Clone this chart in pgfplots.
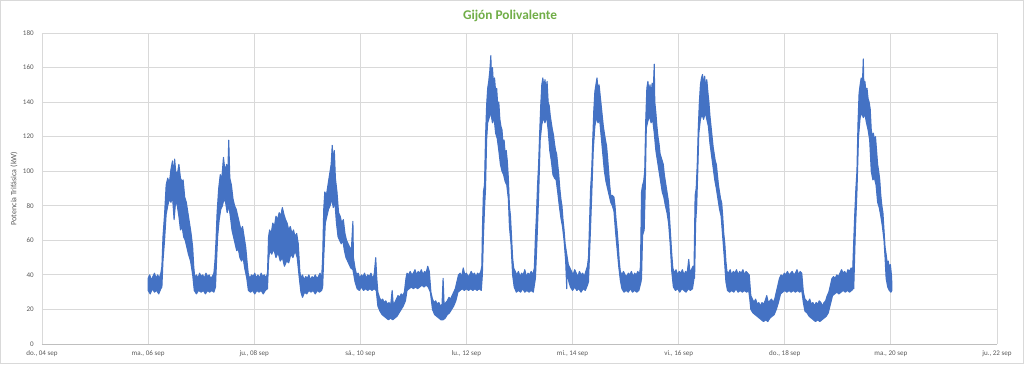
\documentclass[border=0pt]{standalone}
\usepackage{fontspec}
\setmainfont{Carlito}
\usepackage{pgfplots}
\pgfplotsset{compat=1.18}
\definecolor{excelblue}{HTML}{4472C4}
\definecolor{titlegreen}{HTML}{70AD47}
\definecolor{gridgray}{HTML}{D9D9D9}
\definecolor{axisgray}{HTML}{BFBFBF}
\definecolor{labelgray}{HTML}{595959}
\begin{document}
\begin{tikzpicture}
\useasboundingbox (0,0) rectangle (768pt,273pt);
\draw[gridgray, line width=0.75pt] (0.4pt,0.4pt) rectangle (767.6pt,272.6pt);
\begin{axis}[
  at={(31.5pt,15pt)}, anchor=south west,
  scale only axis, width=716.25pt, height=233.25pt,
  xmin=0, xmax=18, ymin=0, ymax=180,
  xtick={0,2,...,18},
  xticklabels={{do., 04 sep},{ma., 06 sep},{ju., 08 sep},{sá., 10 sep},{lu., 12 sep},{mi., 14 sep},{vi., 16 sep},{do., 18 sep},{ma., 20 sep},{ju., 22 sep}},
  ytick={0,20,...,180},
  grid=major, major grid style={gridgray, line width=0.6pt},
  axis x line*=bottom, axis y line*=left,
  x axis line style={axisgray, -, line width=0.6pt},
  y axis line style={gridgray, -, line width=0.6pt},
  major tick length=0pt,
  /pgf/number format/assume math mode=true,
  tick label style={font=\fontsize{5.3}{6}\selectfont, text=labelgray, inner sep=0pt},
  yticklabel style={anchor=east, xshift=-6pt},
  xticklabel style={anchor=north, yshift=-5pt},
]
% noisy power band: upper envelope (forward in time), then lower envelope (backward)
% x = days since do., 04 sep 00:00 ; y = kW
\addplot[excelblue, fill=excelblue, line width=0.8pt, line join=round] table[x=x, y=y] {
x y
2.00 38
2.03 40
2.06 37
2.09 39
2.12 41
2.15 38
2.18 40
2.21 38
2.24 41
2.26 45
2.28 62
2.31 75
2.34 92
2.37 96
2.40 93
2.43 101
2.46 106
2.48 97
2.50 107
2.52 100
2.55 98
2.58 104
2.61 96
2.64 94
2.66 95
2.69 85
2.72 82
2.75 76
2.78 70
2.81 64
2.84 56
2.86 45
2.88 38
2.91 40
2.94 38
2.97 41
3.00 39
3.03 40
3.06 38
3.09 41
3.12 39
3.15 40
3.18 38
3.21 39
3.24 41
3.26 48
3.28 60
3.30 76
3.33 90
3.36 98
3.39 96
3.42 108
3.45 100
3.48 104
3.50 97
3.52 118
3.54 96
3.57 92
3.60 84
3.63 80
3.66 78
3.69 74
3.72 70
3.75 66
3.78 68
3.81 62
3.84 56
3.87 46
3.89 40
3.92 38
3.95 40
3.98 39
4.01 41
4.04 38
4.07 40
4.10 38
4.13 41
4.16 39
4.19 40
4.22 38
4.25 41
4.27 62
4.29 66
4.32 64
4.35 70
4.38 68
4.41 74
4.44 72
4.47 76
4.50 74
4.53 79
4.56 75
4.59 72
4.62 70
4.65 66
4.68 68
4.71 64
4.74 66
4.77 62
4.80 64
4.83 58
4.86 42
4.88 38
4.91 40
4.94 37
4.97 39
5.00 38
5.03 40
5.06 37
5.09 39
5.12 38
5.15 40
5.18 38
5.21 39
5.24 41
5.27 38
5.29 50
5.31 78
5.33 88
5.36 86
5.39 92
5.42 98
5.45 104
5.47 115
5.49 106
5.51 112
5.53 96
5.56 88
5.59 76
5.62 74
5.65 70
5.68 72
5.71 64
5.74 60
5.77 58
5.80 56
5.83 54
5.86 71
5.87 50
5.90 44
5.93 40
5.96 41
5.99 38
6.02 40
6.05 39
6.08 41
6.11 38
6.14 40
6.17 39
6.20 41
6.23 38
6.26 40
6.29 50
6.31 38
6.33 30
6.36 27
6.39 25
6.42 26
6.45 24
6.48 25
6.51 23
6.54 24
6.57 22
6.60 31
6.62 23
6.65 24
6.68 26
6.71 28
6.74 27
6.77 29
6.80 28
6.83 30
6.86 38
6.88 41
6.91 40
6.94 42
6.97 40
7.00 41
7.03 43
7.06 40
7.09 42
7.12 41
7.15 43
7.18 40
7.21 42
7.24 41
7.27 45
7.30 42
7.33 30
7.36 26
7.39 24
7.42 25
7.45 23
7.48 24
7.51 22
7.54 23
7.56 38
7.58 22
7.61 24
7.64 25
7.67 27
7.70 26
7.73 28
7.76 30
7.79 32
7.82 36
7.85 40
7.88 41
7.91 39
7.94 44
7.97 40
8.00 41
8.03 39
8.06 40
8.09 42
8.12 40
8.15 41
8.18 39
8.21 41
8.24 40
8.27 42
8.29 45
8.30 65
8.32 88
8.34 92
8.36 120
8.38 138
8.40 148
8.42 152
8.44 158
8.46 167
8.47 155
8.49 160
8.51 150
8.53 154
8.55 146
8.57 148
8.59 138
8.61 140
8.63 130
8.65 126
8.67 124
8.69 116
8.71 118
8.73 110
8.75 112
8.77 106
8.79 96
8.81 80
8.83 74
8.85 62
8.87 50
8.89 44
8.92 42
8.95 40
8.98 42
9.01 39
9.04 41
9.07 40
9.10 43
9.13 39
9.16 41
9.19 40
9.22 42
9.25 40
9.28 44
9.30 62
9.32 75
9.34 92
9.36 104
9.38 122
9.40 138
9.42 150
9.44 154
9.46 148
9.48 153
9.50 147
9.52 152
9.54 140
9.56 138
9.58 132
9.60 128
9.62 124
9.64 121
9.66 116
9.68 112
9.70 110
9.72 104
9.74 98
9.76 90
9.78 84
9.80 80
9.82 72
9.84 66
9.86 58
9.88 54
9.90 50
9.92 46
9.95 44
9.98 42
10.01 40
10.04 43
10.07 41
10.10 39
10.13 42
10.16 40
10.19 41
10.22 39
10.25 42
10.28 45
10.30 50
10.32 70
10.34 90
10.36 100
10.38 118
10.40 135
10.42 146
10.44 150
10.46 154
10.48 148
10.50 150
10.52 144
10.54 138
10.56 132
10.58 126
10.60 122
10.62 118
10.64 115
10.66 108
10.68 100
10.70 92
10.72 86
10.75 86
10.78 85
10.80 80
10.82 72
10.84 66
10.86 58
10.88 48
10.90 42
10.93 40
10.96 42
10.99 40
11.02 39
11.05 41
11.08 40
11.11 42
11.14 39
11.17 41
11.20 40
11.23 42
11.26 40
11.28 45
11.30 88
11.32 92
11.34 94
11.36 100
11.38 130
11.40 148
11.42 152
11.44 146
11.46 150
11.48 144
11.50 151
11.52 146
11.54 162
11.55 140
11.57 134
11.59 126
11.61 120
11.63 116
11.65 110
11.67 108
11.69 106
11.71 104
11.73 98
11.75 94
11.77 90
11.79 86
11.81 82
11.83 72
11.85 62
11.87 52
11.89 44
11.92 41
11.95 43
11.98 40
12.01 42
12.04 41
12.07 43
12.10 40
12.13 42
12.16 41
12.19 49
12.21 42
12.24 43
12.27 45
12.29 45
12.31 86
12.33 90
12.35 104
12.37 125
12.39 140
12.41 150
12.43 154
12.45 156
12.47 150
12.49 155
12.51 148
12.53 153
12.55 146
12.57 140
12.59 132
12.61 126
12.63 120
12.65 114
12.67 110
12.69 106
12.71 104
12.73 98
12.75 92
12.77 88
12.79 84
12.81 82
12.83 74
12.85 64
12.87 58
12.89 48
12.91 42
12.94 41
12.97 43
13.00 40
13.03 42
13.06 41
13.09 43
13.12 40
13.15 42
13.18 41
13.21 43
13.24 40
13.27 42
13.30 41
13.33 40
13.36 28
13.39 26
13.42 24
13.45 26
13.48 23
13.51 24
13.54 22
13.57 24
13.60 23
13.63 25
13.66 28
13.69 24
13.72 25
13.75 26
13.78 24
13.81 26
13.84 30
13.87 34
13.90 38
13.93 40
13.96 39
13.99 41
14.02 40
14.05 42
14.08 40
14.11 41
14.14 42
14.17 40
14.20 41
14.23 43
14.26 40
14.29 42
14.32 41
14.35 30
14.38 26
14.41 25
14.44 24
14.47 26
14.50 23
14.53 24
14.56 22
14.59 24
14.62 23
14.65 25
14.68 24
14.71 22
14.74 24
14.77 25
14.80 28
14.83 30
14.86 34
14.89 38
14.92 39
14.95 38
14.98 40
15.01 39
15.04 41
15.07 43
15.10 41
15.13 42
15.16 40
15.19 43
15.22 42
15.25 44
15.28 43
15.30 60
15.32 76
15.34 90
15.36 100
15.38 128
15.40 145
15.42 150
15.44 154
15.46 148
15.48 165
15.49 150
15.51 152
15.53 146
15.55 148
15.57 142
15.59 140
15.61 136
15.63 124
15.65 120
15.67 122
15.69 118
15.71 120
15.73 112
15.75 104
15.77 100
15.79 95
15.81 86
15.83 80
15.85 76
15.87 66
15.89 56
15.91 52
15.93 47
15.95 48
15.97 44
15.99 46
16.01 40
16.02 34
16.02 31
16.00 30
15.97 31
15.94 33
15.91 38
15.89 50
15.87 60
15.84 68
15.81 74
15.78 79
15.75 82
15.72 92
15.69 96
15.66 95
15.63 100
15.60 118
15.57 124
15.54 128
15.51 133
15.48 131
15.45 134
15.42 131
15.39 120
15.36 88
15.33 65
15.30 32
15.29 32
15.26 31
15.22 30
15.18 31
15.14 30
15.10 31
15.06 30
15.02 29
14.98 30
14.94 29
14.90 28
14.86 23
14.82 18
14.78 16
14.74 15
14.70 14
14.66 13
14.62 14
14.58 13
14.54 14
14.50 15
14.46 16
14.42 18
14.38 19
14.35 24
14.32 31
14.28 30
14.24 31
14.20 30
14.16 31
14.12 30
14.08 31
14.04 30
14.00 31
13.96 30
13.92 29
13.88 24
13.84 20
13.80 17
13.76 16
13.72 15
13.68 13
13.64 14
13.60 13
13.56 14
13.52 15
13.48 16
13.44 17
13.40 18
13.36 20
13.34 26
13.32 31
13.28 30
13.24 31
13.20 30
13.16 31
13.12 30
13.08 32
13.04 30
13.00 31
12.96 30
12.92 31
12.89 36
12.86 50
12.83 62
12.80 74
12.77 78
12.74 84
12.71 90
12.68 95
12.65 102
12.62 109
12.59 116
12.56 126
12.53 130
12.50 134
12.47 130
12.44 133
12.41 130
12.38 122
12.36 100
12.34 80
12.32 70
12.30 38
12.29 38
12.26 32
12.22 31
12.18 32
12.14 30
12.10 31
12.06 32
12.02 30
11.98 32
11.94 31
11.90 33
11.87 42
11.84 58
11.81 70
11.78 76
11.75 80
11.72 85
11.69 88
11.66 94
11.63 100
11.60 106
11.57 112
11.54 122
11.51 130
11.48 128
11.45 132
11.42 129
11.39 125
11.37 90
11.35 66
11.32 63
11.30 38
11.29 36
11.25 31
11.21 30
11.17 31
11.13 30
11.09 32
11.05 30
11.01 31
10.97 30
10.93 32
10.90 37
10.87 45
10.84 55
10.81 65
10.78 77
10.75 80
10.72 82
10.69 86
10.66 90
10.63 94
10.60 100
10.57 110
10.54 120
10.51 130
10.48 128
10.45 131
10.42 126
10.39 112
10.36 85
10.33 60
10.30 36
10.28 34
10.24 31
10.20 32
10.16 30
10.12 32
10.08 31
10.04 33
10.00 31
9.96 33
9.93 36
9.90 44
9.89 32
9.87 48
9.84 60
9.81 68
9.78 73
9.75 80
9.72 88
9.69 95
9.66 96
9.63 98
9.60 106
9.57 112
9.54 124
9.51 132
9.48 128
9.45 131
9.42 127
9.39 118
9.36 85
9.33 60
9.30 38
9.29 36
9.26 30
9.22 31
9.18 30
9.14 31
9.10 30
9.06 32
9.02 30
8.98 31
8.94 30
8.90 33
8.87 40
8.84 58
8.81 68
8.79 84
8.76 92
8.73 94
8.70 98
8.67 100
8.64 104
8.61 112
8.58 119
8.55 122
8.52 131
8.49 128
8.46 134
8.43 131
8.40 128
8.38 118
8.36 90
8.34 78
8.32 62
8.30 40
8.28 31
8.24 32
8.20 31
8.16 32
8.12 31
8.08 32
8.04 31
8.00 32
7.96 31
7.92 32
7.88 31
7.84 30
7.80 25
7.76 22
7.72 20
7.68 18
7.64 17
7.60 15
7.56 14
7.52 14
7.48 15
7.44 16
7.40 17
7.36 20
7.32 30
7.28 33
7.24 34
7.20 33
7.16 34
7.12 33
7.08 32
7.04 33
7.00 32
6.96 33
6.92 32
6.88 31
6.85 25
6.81 22
6.77 20
6.73 18
6.69 16
6.65 15
6.61 14
6.57 15
6.53 14
6.49 15
6.45 16
6.41 17
6.37 19
6.33 22
6.30 31
6.26 32
6.22 31
6.18 32
6.14 31
6.10 32
6.06 31
6.02 33
5.98 31
5.94 32
5.90 36
5.86 43
5.82 44
5.79 46
5.76 48
5.73 50
5.70 54
5.67 60
5.64 58
5.61 60
5.58 62
5.55 70
5.52 82
5.49 79
5.46 84
5.43 80
5.40 78
5.37 74
5.34 70
5.31 50
5.29 33
5.27 31
5.23 30
5.19 31
5.15 29
5.11 31
5.07 30
5.03 31
4.99 29
4.95 30
4.91 27
4.88 30
4.85 38
4.81 50
4.77 54
4.73 50
4.69 52
4.65 47
4.61 48
4.57 45
4.53 50
4.49 48
4.45 53
4.41 50
4.37 55
4.33 52
4.29 54
4.27 48
4.25 32
4.21 31
4.17 29
4.13 31
4.09 30
4.05 31
4.01 29
3.97 31
3.93 30
3.89 31
3.86 38
3.82 44
3.79 50
3.76 48
3.73 50
3.70 55
3.67 54
3.64 58
3.61 62
3.58 66
3.55 74
3.52 80
3.49 76
3.46 82
3.43 84
3.40 80
3.37 78
3.34 72
3.31 62
3.29 48
3.27 33
3.24 30
3.20 31
3.16 30
3.12 31
3.08 29
3.04 31
3.00 30
2.95 31
2.91 29
2.87 31
2.84 40
2.80 48
2.76 52
2.73 56
2.70 60
2.67 62
2.64 68
2.61 66
2.58 74
2.55 80
2.52 83
2.49 72
2.46 85
2.43 82
2.40 84
2.37 80
2.34 75
2.31 60
2.28 48
2.26 33
2.24 32
2.20 29
2.16 31
2.12 30
2.08 32
2.04 29
2.00 31
} -- cycle;
\end{axis}
\node[rotate=90, font=\fontsize{6}{7}\selectfont, text=labelgray] at (10.5pt,131.6pt) {Potencia Trifásica (kW)};
\node[font=\fontsize{10}{12}\selectfont\bfseries, text=titlegreen] at (382.5pt,261pt) {Gijón Polivalente};
\end{tikzpicture}
\end{document}
